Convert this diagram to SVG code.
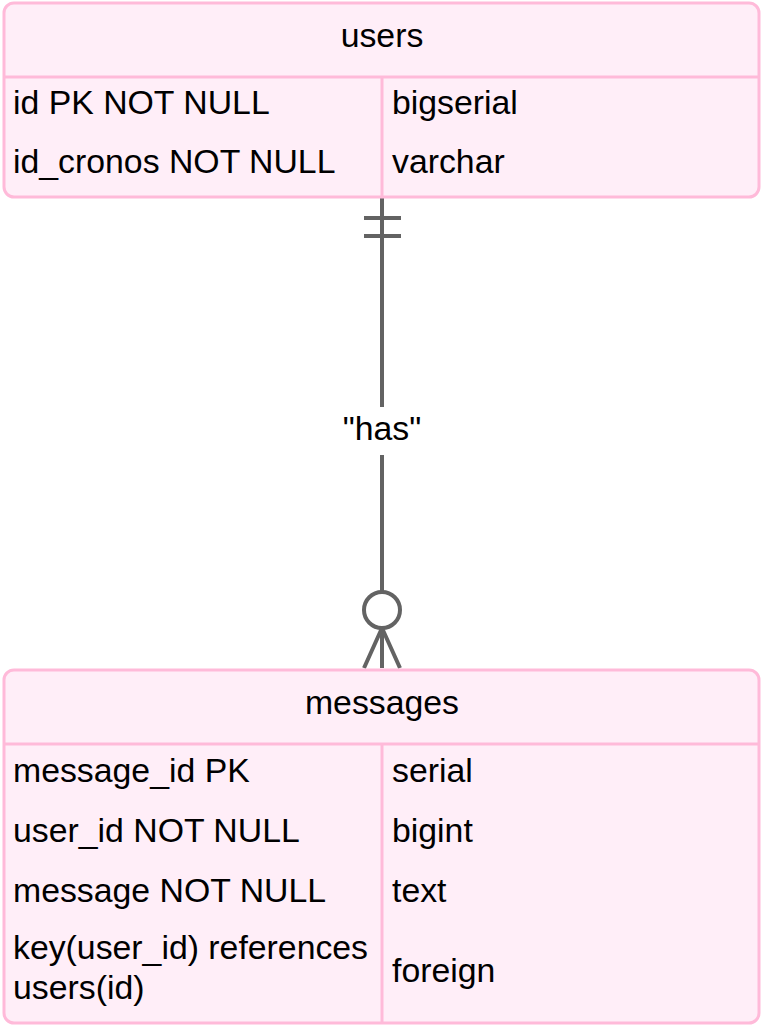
<svg xmlns="http://www.w3.org/2000/svg" width="761" height="1026" viewBox="0 0 761 1026">
<style>
.box{fill:#ffeef8;stroke:#ffbad9;stroke-width:3}
.div{stroke:#ffbad9;stroke-width:3}
text{font-family:"Liberation Sans",Arial,sans-serif;font-size:33.8px;fill:#000}
.c{text-anchor:middle}
.rel{stroke:#636363;stroke-width:4;fill:none}
</style>
<rect width="761" height="1026" fill="#fff"/>
<g id="connectors">
<line class="rel" x1="382" y1="198" x2="382" y2="407"/>
<line class="rel" x1="382" y1="455" x2="382" y2="592"/>
<line class="rel" x1="364" y1="218" x2="401" y2="218"/>
<line class="rel" x1="364" y1="236" x2="401" y2="236"/>
<circle class="rel" cx="382" cy="610" r="18"/>
<path class="rel" d="M382 628 L364 668 M382 628 L382 668 M382 628 L400 668"/>
<text class="c" x="382" y="440">"has"</text>
</g>
<g id="users">
<rect class="box" x="4" y="3" width="755" height="194" rx="10"/>
<line class="div" x1="4" y1="77" x2="759" y2="77"/>
<line class="div" x1="382" y1="77" x2="382" y2="197"/>
<text class="c" x="382" y="47">users</text>
<text x="13" y="114">id PK NOT NULL</text>
<text x="392" y="114">bigserial</text>
<text x="13" y="173">id_cronos NOT NULL</text>
<text x="392" y="173">varchar</text>
</g>
<g id="messages">
<rect class="box" x="4" y="670" width="755" height="353" rx="10"/>
<line class="div" x1="4" y1="744" x2="759" y2="744"/>
<line class="div" x1="382" y1="744" x2="382" y2="1023"/>
<text class="c" x="382" y="714">messages</text>
<text x="13" y="782">message_id PK</text>
<text x="392" y="782">serial</text>
<text x="13" y="842">user_id NOT NULL</text>
<text x="392" y="842">bigint</text>
<text x="13" y="902">message NOT NULL</text>
<text x="392" y="902">text</text>
<text x="13" y="959">key(user_id) references</text>
<text x="13" y="999">users(id)</text>
<text x="392" y="982">foreign</text>
</g>
</svg>
